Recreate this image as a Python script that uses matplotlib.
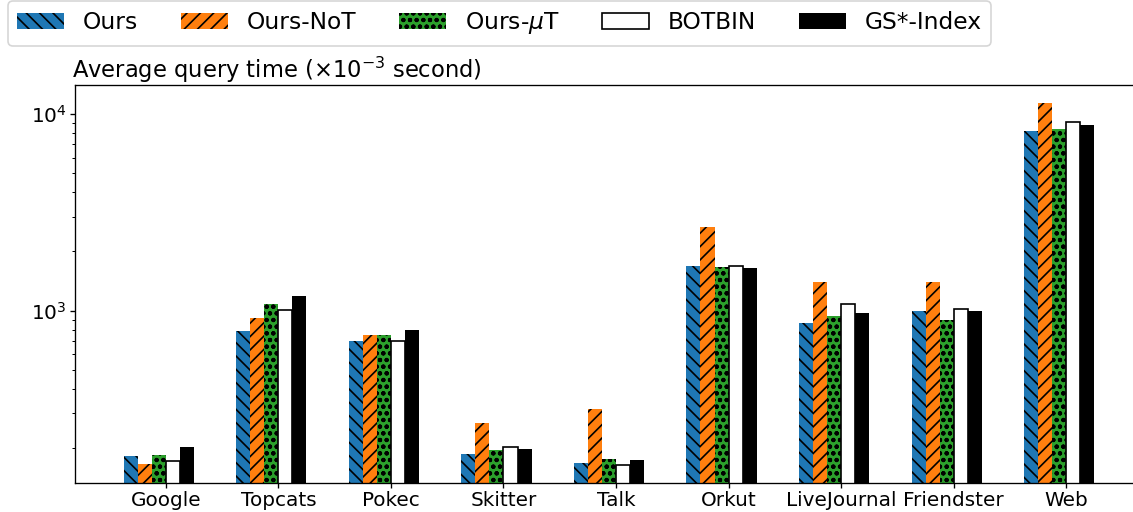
import numpy as np
import matplotlib
matplotlib.use("Agg")
import matplotlib.pyplot as plt

categories = ["Google", "Topcats", "Pokec", "Skitter", "Talk", "Orkut",
              "LiveJournal", "Friendster", "Web"]
series_names = ["Ours", "Ours-NoT", "Ours-$\\mu$T", "BOTBIN", "GS*-Index"]
ours = [182, 788, 701, 186, 168, 1687, 866, 997, 8210]
ours_not = [166, 918, 752, 268, 316, 2667, 1400, 1400, 11400]
ours_mut = [184, 1082, 752, 195, 176, 1675, 940, 897, 8410]
botbin = [172, 1005, 701, 203, 164, 1682, 1078, 1016, 9100]
gs_index = [202, 1192, 798, 198, 174, 1648, 973, 997, 8810]
values = [ours, ours_not, ours_mut, botbin, gs_index]

facecolors = ["#1f77b4", "#ff7f0e", "#2ca02c", "white", "black"]
hatches = ["\\\\\\", "///", "ooo", None, None]
edgecolors = [None, None, None, "black", None]

plt.rcParams["font.family"] = ["DejaVu Sans"]
fig = plt.figure(figsize=(1133 / 120, 512 / 120), dpi=120)
ax = fig.add_axes([75 / 1133, 1 - 482.7 / 512, 1068 / 1133, (482.7 - 85.3) / 512])

x = np.arange(len(categories))
w = 0.125
handles = []
for i, (vals, fc, h, ec) in enumerate(zip(values, facecolors, hatches, edgecolors)):
    kw = dict(color=fc, hatch=h, label=series_names[i])
    if ec is not None:
        kw = dict(facecolor=fc, edgecolor=ec, linewidth=1.0, label=series_names[i])
    b = ax.bar(x + (i - 2.5) * w, vals, w, **kw)
    handles.append(b)

ax.set_yscale("log")
ax.set_ylim(133, 14000)
ax.set_xticks(x)
ax.set_xticklabels(categories, fontsize=12)
ax.tick_params(axis="both", which="major", length=3, pad=2)
ax.tick_params(axis="y", which="minor", length=1.8)
ax.tick_params(axis="y", labelsize=12)
t = ax.set_title("Average query time ($\\times10^{-3}$ second)", loc="left",
                 fontsize=13.6, pad=3)
t.set_x(-3.5 / 1068)

fig.legend(handles=handles, loc="upper left", bbox_to_anchor=(8 / 1133, 0.998),
           ncol=5, fontsize=14, borderaxespad=0, columnspacing=1.85)

fig.savefig("out.png", dpi=120)
